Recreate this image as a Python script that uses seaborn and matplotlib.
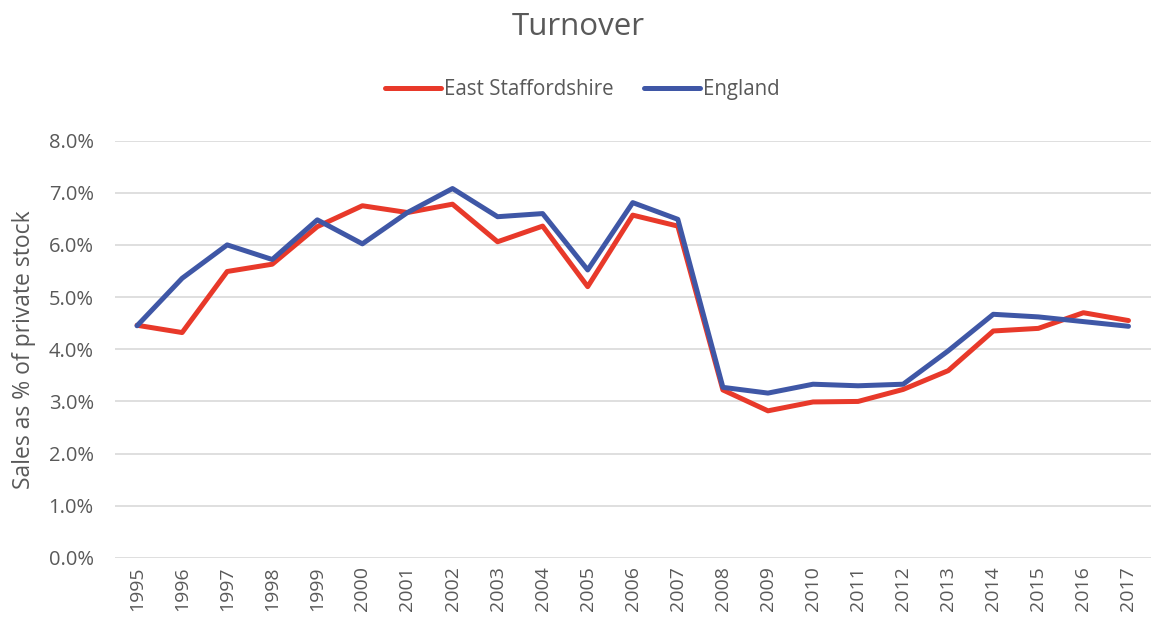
import numpy as np
import pandas as pd
import seaborn as sns
import matplotlib.pyplot as plt
from matplotlib.ticker import PercentFormatter

# values (percent of private stock)
years = list(range(1995, 2018))
east_staffs = [4.46, 4.32, 5.49, 5.63, 6.35, 6.75, 6.62, 6.78, 6.06, 6.36, 5.20, 6.57, 6.36,
               3.22, 2.82, 2.99, 3.00, 3.23, 3.59, 4.35, 4.40, 4.70, 4.55]
england = [4.45, 5.36, 6.00, 5.72, 6.48, 6.02, 6.62, 7.08, 6.54, 6.60, 5.52, 6.81, 6.49,
           3.27, 3.16, 3.33, 3.30, 3.33, 3.97, 4.67, 4.62, 4.53, 4.44]
series_names = ["East Staffordshire", "England"]
colors = ["#E8392A", "#3F57A6"]
yticks = np.arange(0, 9, 1)

df = pd.DataFrame({
    "Year": years * 2,
    "Value": east_staffs + england,
    "Series": [series_names[0]] * len(years) + [series_names[1]] * len(years),
})
df["pos"] = df["Year"] - years[0]

sns.set_style("white")
plt.rcParams["font.family"] = ["Open Sans", "DejaVu Sans"]
text_col = "#595959"

fig = plt.figure(figsize=(11.51, 6.24), dpi=100)
ax = fig.add_axes([0.0995, 0.1058, 0.9005, 0.669])

sns.lineplot(data=df, x="pos", y="Value", hue="Series", palette=colors,
             linewidth=3.6, ax=ax, legend=False, solid_capstyle="round")

ax.set_xlim(-0.5, len(years) - 0.5)
ax.set_ylim(0, 8)
ax.set_yticks(yticks)
ax.yaxis.set_major_formatter(PercentFormatter(decimals=1))
ax.set_xticks(range(len(years)))
ax.set_xticklabels([str(y) for y in years], rotation=90)
ax.tick_params(axis="both", length=0, labelsize=14, colors=text_col)
ax.tick_params(axis="y", labelsize=14.5, pad=15)
ax.tick_params(axis="x", pad=6)
ax.grid(axis="y", color="#D9D9D9", linewidth=1.2)
ax.set_axisbelow(True)
for s in ax.spines.values():
    s.set_visible(False)
ax.set_xlabel("")
ax.set_ylabel("Sales as % of private stock", fontsize=16.5, color=text_col)
ax.yaxis.set_label_coords(-0.076, 0.5)

fig.text(0.502, 1 - 27 / 624, "Turnover", fontsize=22.5, color=text_col,
         ha="center", va="center")

handles = [plt.Line2D([], [], color=c, linewidth=3.6, solid_capstyle="round") for c in colors]
fig.legend(handles, series_names, loc="center", bbox_to_anchor=(0.506, 0.857), ncol=2,
           frameon=False, fontsize=14.8, labelcolor=text_col, handlelength=2.7,
           handletextpad=0.15, columnspacing=1.5)

fig.savefig("out.png", dpi=100)
